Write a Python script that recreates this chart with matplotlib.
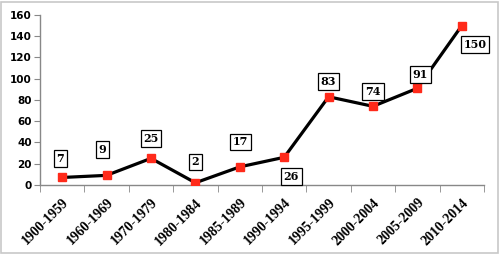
import matplotlib
matplotlib.use("Agg")
import matplotlib.pyplot as plt
from matplotlib.patches import Rectangle
import matplotlib.transforms as mtransforms
import numpy as np

categories = ["1900-1959", "1960-1969", "1970-1979", "1980-1984", "1985-1989",
              "1990-1994", "1995-1999", "2000-2004", "2005-2009", "2010-2014"]
values = [7, 9, 25, 2, 17, 26, 83, 74, 91, 150]
yticks = [0, 20, 40, 60, 80, 100, 120, 140, 160]
# label offsets in pixels (dx, dy)
label_offsets = [(-2, 19), (-4, 26), (0, 20), (0, 21), (1, 25),
                 (7, -19), (0, 15), (0, 15), (3, 14), (13, -19)]

fig = plt.figure(figsize=(5.0, 2.54), dpi=100)
ax = fig.add_axes([0.08, 0.272, 0.888, 0.669])
x = np.arange(len(categories))
ax.plot(x, values, color="black", lw=2.3, marker="s", markersize=5.5,
        markerfacecolor="#ff2a1a", markeredgecolor="#ff2a1a", zorder=3)

for xi, v, (dx, dy) in zip(x, values, label_offsets):
    ax.annotate(str(v), (xi, v), xytext=(dx, dy), textcoords="offset pixels",
                ha="center", va="center", fontsize=8, fontweight="bold",
                family="DejaVu Serif",
                bbox=dict(boxstyle="square,pad=0.25", fc="white", ec="black", lw=0.9),
                zorder=4)

ax.set_xlim(-0.5, len(categories) - 0.5)
ax.set_ylim(0, 160)
ax.set_yticks(yticks)
ax.set_yticklabels([str(t) for t in yticks], fontsize=7.5, fontweight="bold",
                   family="DejaVu Sans")
ax.set_xticks(x)
ax.set_xticklabels(categories, rotation=45, ha="right", rotation_mode="anchor",
                   fontsize=10, fontweight="bold", family="Liberation Serif")
shift = mtransforms.ScaledTranslation(4 / 100, 0, fig.dpi_scale_trans)
for lab in ax.get_xticklabels():
    lab.set_transform(lab.get_transform() + shift)
ax.tick_params(axis="x", which="major", length=0, pad=8)
ax.set_xticks(np.arange(-0.5, len(categories)), minor=True)
ax.tick_params(axis="x", which="minor", length=5, color="#888888", direction="out")
ax.tick_params(axis="y", length=4, color="#888888", direction="out", pad=2)
for s in ["top", "right"]:
    ax.spines[s].set_visible(False)
for s in ["left", "bottom"]:
    ax.spines[s].set_color("#888888")
    ax.spines[s].set_linewidth(1.0)

fig.patches.append(Rectangle((0.002, 0.004), 0.994, 0.99, transform=fig.transFigure,
                             fill=False, ec="#c8c8c8", lw=1.2))
fig.savefig("out.png", dpi=100)
